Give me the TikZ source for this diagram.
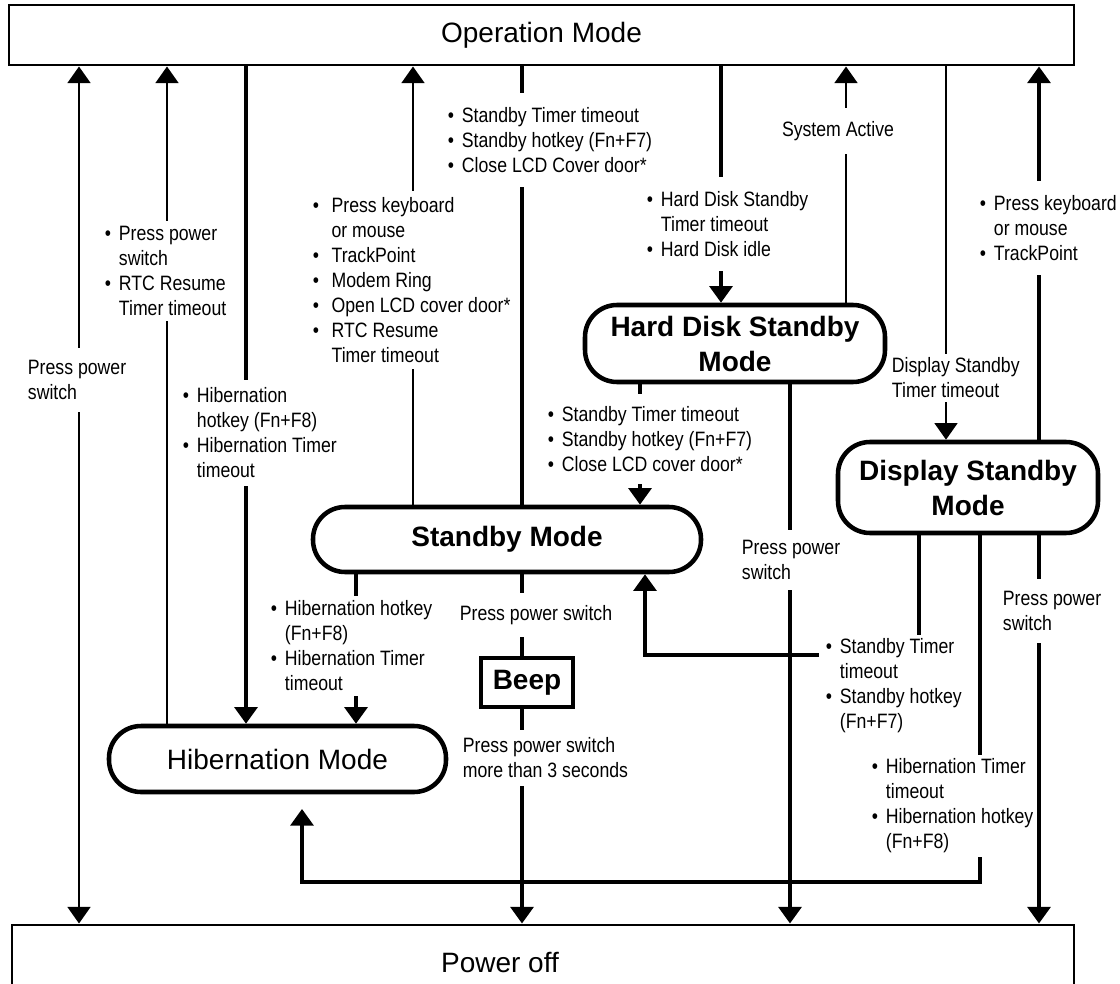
\documentclass[tikz,border=0pt]{standalone}
\usepackage{fontspec}
\setmainfont{Liberation Sans}
\newfontfamily\narrowsf[FakeStretch=0.85]{Liberation Sans}
\usetikzlibrary{arrows.meta}

\newlength{\bulw}
\setlength{\bulw}{10.5pt}
\newcommand{\bl}[1]{\makebox[\bulw][l]{\textbullet}#1}
\newcommand{\nb}[1]{\hspace*{\bulw}#1}
\newcommand{\bigfont}{\fontsize{21}{26.25}\selectfont}
\newcommand{\lblfont}{\narrowsf\fontsize{15.6}{18.75}\selectfont}

\tikzset{
  bigbox/.style={draw, line width=2.2pt, font=\bigfont, inner sep=0pt},
  modebox/.style={draw, line width=3.4pt, rounded corners=24pt, font=\bigfont\bfseries, align=center, inner sep=0pt},
  beepbox/.style={draw, line width=3pt, font=\bigfont\bfseries, inner sep=0pt},
  lbl/.style={fill=white, font=\lblfont, align=left, inner xsep=2pt, inner ysep=4pt},
  thinln/.style={line width=2.2pt},
  medln/.style={line width=3pt},
  thickln/.style={line width=3.6pt},
  arr/.style={-{Triangle[length=12.5pt,width=17pt]}},
  arrs/.style={{Triangle[length=12.5pt,width=17pt]}-{Triangle[length=12.5pt,width=17pt]}}
}

\begin{document}
\begin{tikzpicture}[x=0.75pt, y=-0.75pt]
\useasboundingbox (0,0) rectangle (1120,984);
% States
\node[bigbox, minimum width=798.75pt, minimum height=45pt] (op) at (541.5,35) {Operation Mode};
\node[bigbox, minimum width=796.5pt, minimum height=55.5pt] (off) at (543,962) {Power off\hspace*{64.5pt}};
\node[modebox, font=\bigfont, minimum width=252.75pt, minimum height=49.5pt] (hib) at (277.5,759) {Hibernation Mode};
\node[modebox, minimum width=291pt, minimum height=48.75pt] (stb) at (507,539.5) {Standby Mode};
\node[modebox, minimum width=225pt, minimum height=57.75pt] (hdd) at (735,343.5) {Hard Disk Standby\\Mode};
\node[modebox, minimum width=195pt, minimum height=68.25pt] (ds) at (968,487.5) {Display Standby\\Mode};
\node[beepbox, minimum width=69pt, minimum height=36.75pt] (beep) at (527,682.5) {Beep};
% Columns and rows of the connectors
\foreach \n/\x in {1/79, 2/167, 3/246, 4/413, 5/522, 6/721, 7/846, 8/946, 9/1039,
                   10/640, 11/790, 12/356, 13/919, 14/645, 15/980, 16/302}
  \coordinate (c\n) at (\x,0);
\coordinate (r1) at (0,655);
\coordinate (r2) at (0,882);
% To and from Operation Mode
\draw[thinln, arrs] (op.south -| c1) -- (off.north -| c1);
\draw[thinln, arr] (hib.north -| c2) -- (op.south -| c2);
\draw[thickln, arr] (op.south -| c3) -- (hib.north -| c3);
\draw[thinln, arr] (stb.north -| c4) -- (op.south -| c4);
\draw[thickln] (op.south -| c5) -- (stb.north -| c5);
\draw[thickln, arr] (op.south -| c6) -- (hdd.north -| c6);
\draw[thinln, arr] (hdd.north -| c7) -- (op.south -| c7);
\draw[thinln, arr] (op.south -| c8) -- (ds.north -| c8);
\draw[thickln, arr] (ds.north -| c9) -- (op.south -| c9);
% Between the standby states and to Power off
\draw[thickln, arr] (hdd.south -| c10) -- (stb.north -| c10);
\draw[thickln, arr] (hdd.south -| c11) -- (off.north -| c11);
\draw[thickln, arr] (stb.south -| c12) -- (hib.north -| c12);
\draw[thickln] (stb.south -| c5) -- (beep.north -| c5);
\draw[thickln, arr] (beep.south -| c5) -- (off.north -| c5);
\draw[medln, arr] (ds.south -| c13) -- (c13 |- r1) -- (c14 |- r1) -- (stb.south -| c14);
\draw[medln, arr, shorten >=11pt] (ds.south -| c15) -- (c15 |- r2) -- (c16 |- r2) -- (hib.south -| c16);
\draw[thickln, arr] (ds.south -| c9) -- (off.north -| c9);
% Conditions
\node[lbl, anchor=west, inner ysep=9pt] (la) at (25,380) {Press power\\switch};
\node[lbl, anchor=west] (lb) at (102,271) {\bl{Press power}\\\nb{switch}\\\bl{RTC Resume}\\\nb{Timer timeout}};
\node[lbl, anchor=west, inner ysep=6pt] (lc) at (180,433) {\bl{Hibernation}\\\nb{hotkey (Fn+F8)}\\\bl{Hibernation Timer}\\\nb{timeout}};
\node[lbl, anchor=west, inner ysep=5pt, font=\lblfont\setlength{\bulw}{14pt}] (ld) at (310,280) {\bl{Press keyboard}\\\nb{or mouse}\\\bl{TrackPoint}\\\bl{Modem Ring}\\\bl{Open LCD cover door*}\\\bl{RTC Resume}\\\nb{Timer timeout}};
\node[lbl, anchor=west, inner ysep=11pt] (le) at (445,140) {\bl{Standby Timer timeout}\\\bl{Standby hotkey (Fn+F7)}\\\bl{Close LCD Cover door*}};
\node[lbl, anchor=west, inner ysep=11pt] (lf) at (644,224) {\bl{Hard Disk Standby}\\\nb{Timer timeout}\\\bl{Hard Disk idle}};
\node[lbl, inner ysep=10pt] (lg) at (838,131) {System Active};
\node[lbl, anchor=west, inner ysep=11pt] (lh) at (977,228) {\bl{Press keyboard}\\\nb{or mouse}\\\bl{TrackPoint}};
\node[lbl, anchor=west, inner ysep=3pt] (li) at (889,378) {Display Standby\\Timer timeout};
\node[lbl, anchor=west, inner ysep=9pt] (lj) at (545,439) {\bl{Standby Timer timeout}\\\bl{Standby hotkey (Fn+F7)}\\\bl{Close LCD cover door*}};
\node[lbl, anchor=west] (lk) at (268,646) {\bl{Hibernation hotkey}\\\nb{(Fn+F8)}\\\bl{Hibernation Timer}\\\nb{timeout}};
\node[lbl, inner ysep=9pt] (ll) at (536,615) {Press power switch};
\node[lbl, anchor=west, inner ysep=6pt] (lm) at (460,758) {Press power switch\\more than 3 seconds};
\node[lbl, anchor=west, inner ysep=7.5pt] (ln) at (739,560) {Press power\\switch};
\node[lbl, anchor=west, inner ysep=9pt] (lo) at (1000,611) {Press power\\switch};
\node[lbl, anchor=west, inner xsep=5pt, inner ysep=3pt] (lp) at (819,686) {\bl{Standby Timer}\\\nb{timeout}\\\bl{Standby hotkey}\\\nb{(Fn+F7)}};
\node[lbl, anchor=west, inner ysep=3pt] (lq) at (869,806) {\bl{Hibernation Timer}\\\nb{timeout}\\\bl{Hibernation hotkey}\\\nb{(Fn+F8)}};
\end{tikzpicture}
\end{document}
